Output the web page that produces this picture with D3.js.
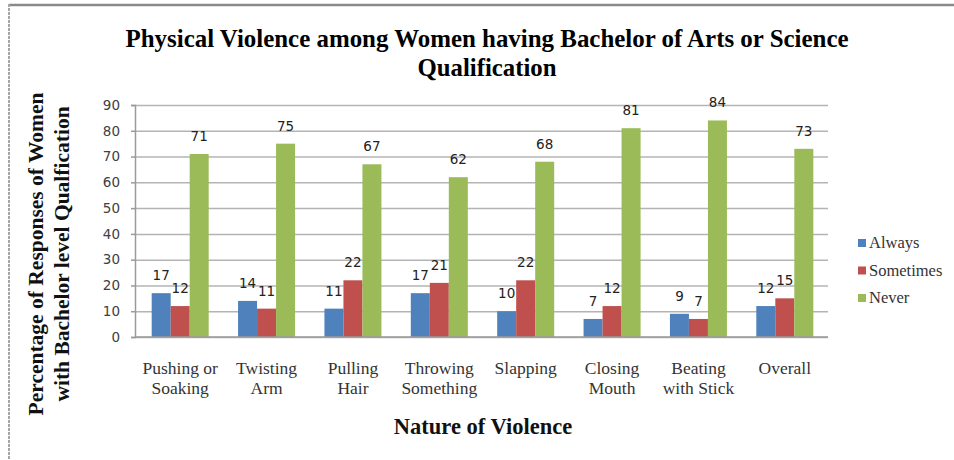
<!DOCTYPE html>
<html>
<head>
<meta charset="utf-8">
<script src="https://cdn.jsdelivr.net/npm/d3@7"></script>
<style>
  html, body { margin: 0; padding: 0; background: #ffffff; }
  svg { display: block; }
</style>
</head>
<body>
<script>
// Survey categories (multi-line labels split on "\n")
const categories = [
  "Pushing or\nSoaking",
  "Twisting\nArm",
  "Pulling\nHair",
  "Throwing\nSomething",
  "Slapping",
  "Closing\nMouth",
  "Beating\nwith Stick",
  "Overall"
];

// Percentage of responses per category
const seriesNames = ["Always", "Sometimes", "Never"];
const always    = [17, 14, 11, 17, 10, 7, 9, 12];
const sometimes = [12, 11, 22, 21, 22, 12, 7, 15];
const never     = [71, 75, 67, 62, 68, 81, 84, 73];

const yTicks = [0, 10, 20, 30, 40, 50, 60, 70, 80, 90];

const titleLines = [
  "Physical Violence among Women having Bachelor of Arts or Science",
  "Qualification"
];
const yTitleLines = [
  "Percentage of Responses of Women",
  "with Bachelor level Qualfication"
];
const xTitle = "Nature of Violence";

const colors = ["#4F81BD", "#C0504D", "#9BBB59"];
const seriesValues = [always, sometimes, never];

const W = 954, H = 460;
const plot = { left: 135, right: 828, top: 105, bottom: 337 };
const serif = "'Liberation Serif', 'Times New Roman', serif";
const sans = "'DejaVu Sans', Verdana, sans-serif";

const svg = d3.select("body").append("svg")
  .attr("width", W).attr("height", H);

// Outer frame: solid top edge, dashed left edge
svg.append("line")
  .attr("x1", 9).attr("x2", W).attr("y1", 5).attr("y2", 5)
  .attr("stroke", "#8a8a8a").attr("stroke-width", 2.5);
svg.append("line")
  .attr("x1", 9).attr("x2", 9).attr("y1", 4).attr("y2", H)
  .attr("stroke", "#a6a6a6").attr("stroke-width", 2)
  .attr("stroke-dasharray", "3,1");

const x0 = d3.scaleBand()
  .domain(d3.range(categories.length))
  .range([plot.left + 2, plot.right])
  .paddingInner(0.34)
  .paddingOuter(0.17);

const x1 = d3.scaleBand()
  .domain(d3.range(seriesNames.length))
  .range([0, x0.bandwidth()]);

const y = d3.scaleLinear()
  .domain([0, 90])
  .range([plot.bottom, plot.top]);

// Horizontal gridlines
const grid = svg.append("g")
  .attr("transform", `translate(${plot.left},0)`)
  .call(d3.axisLeft(y).tickValues(yTicks).tickSize(-(plot.right - plot.left)).tickFormat(""));
grid.select(".domain").remove();
grid.selectAll(".tick line").attr("stroke", "#b4b4b4").attr("stroke-width", 1.5);

// Y axis with tick labels
const yAxis = svg.append("g")
  .attr("transform", `translate(${plot.left},0)`)
  .call(d3.axisLeft(y).tickValues(yTicks).tickSize(4).tickPadding(11));
yAxis.select(".domain").attr("stroke", "#9a9a9a").attr("stroke-width", 1.5);
yAxis.selectAll(".tick line").attr("stroke", "#9a9a9a").attr("stroke-width", 1.5);
yAxis.selectAll(".tick text")
  .attr("font-family", sans)
  .attr("font-size", 13.5)
  .attr("fill", "#404040");

// Bars
const groups = svg.append("g").selectAll("g")
  .data(categories.map((c, i) => i))
  .join("g")
  .attr("transform", i => `translate(${x0(i)},0)`);

groups.selectAll("rect")
  .data(i => seriesValues.map((vals, s) => ({ s, v: vals[i] })))
  .join("rect")
  .attr("x", d => x1(d.s))
  .attr("width", x1.bandwidth())
  .attr("y", d => y(d.v))
  .attr("height", d => y(0) - y(d.v))
  .attr("fill", d => colors[d.s]);

// Value labels above bars
groups.selectAll("text.val")
  .data(i => seriesValues.map((vals, s) => ({ s, v: vals[i] })))
  .join("text")
  .attr("class", "val")
  .attr("x", d => x1(d.s) + x1.bandwidth() / 2)
  .attr("y", d => y(d.v) - 13)
  .attr("text-anchor", "middle")
  .attr("font-family", sans)
  .attr("font-size", 13.5)
  .attr("fill", "#222")
  .text(d => d.v);

// X axis baseline and category labels
const xAxis = svg.append("g")
  .attr("transform", `translate(0,${plot.bottom})`)
  .call(d3.axisBottom(x0).tickSize(0).tickFormat(""));
xAxis.select(".domain")
  .attr("d", `M${plot.left},0H${plot.right}`)
  .attr("stroke", "#9a9a9a").attr("stroke-width", 1.5);

xAxis.selectAll(".tick").each(function (i) {
  const t = d3.select(this).append("text")
    .attr("text-anchor", "middle")
    .attr("font-family", serif)
    .attr("font-size", 17.5)
    .attr("fill", "#333");
  categories[i].split("\n").forEach((line, k) => {
    t.append("tspan").attr("x", 0).attr("y", 37 + k * 20).text(line);
  });
});

// Chart title (condensed to the header width)
const titleWidths = [723, 139];
titleLines.forEach((line, k) => {
  svg.append("text")
    .attr("x", 487).attr("y", 47 + k * 29)
    .attr("text-anchor", "middle")
    .attr("font-family", serif)
    .attr("font-weight", "bold")
    .attr("font-size", 26)
    .attr("fill", "#000")
    .attr("textLength", titleWidths[k])
    .attr("lengthAdjust", "spacingAndGlyphs")
    .text(line);
});

// Axis titles
svg.append("text")
  .attr("x", 483).attr("y", 434)
  .attr("text-anchor", "middle")
  .attr("font-family", serif)
  .attr("font-weight", "bold")
  .attr("font-size", 22.5)
  .attr("fill", "#111")
  .text(xTitle);

const yTitle = svg.append("text")
  .attr("transform", "translate(0,254) rotate(-90)")
  .attr("text-anchor", "middle")
  .attr("font-family", serif)
  .attr("font-weight", "bold")
  .attr("font-size", 21.5)
  .attr("fill", "#111");
yTitleLines.forEach((line, k) => {
  yTitle.append("tspan").attr("x", 0).attr("y", 43 + k * 26).text(line);
});

// Legend
const legend = svg.append("g").attr("transform", "translate(858,243)");
const items = legend.selectAll("g")
  .data(seriesNames)
  .join("g")
  .attr("transform", (d, i) => `translate(0,${i * 27.5})`);
items.append("rect")
  .attr("x", 0).attr("y", -4).attr("width", 8).attr("height", 8)
  .attr("fill", (d, i) => colors[i]);
items.append("text")
  .attr("x", 11).attr("y", 5)
  .attr("font-family", serif)
  .attr("font-size", 16.5)
  .attr("fill", "#333")
  .text(d => d);
</script>
</body>
</html>
